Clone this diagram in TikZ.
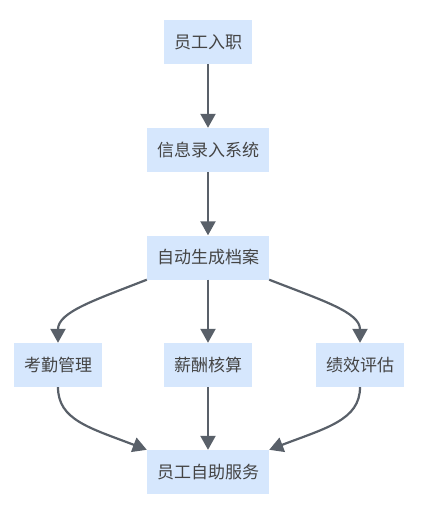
\documentclass[tikz,border=0pt]{standalone}
\usepackage{fontspec}
\setmainfont{Noto Sans CJK SC}
\usetikzlibrary{arrows.meta}
\definecolor{boxfill}{HTML}{D6E7FD}
\definecolor{edgecol}{HTML}{596069}
\definecolor{txtcol}{HTML}{444444}
\begin{document}
\begin{tikzpicture}[x=1pt,y=-1pt,
  box/.style={fill=boxfill,text=txtcol,font=\fontsize{17}{20}\selectfont,minimum height=44pt,inner xsep=10pt},
  flow/.style={draw=edgecol,line width=2.2pt,-{Triangle[length=14pt,width=15pt]}}]
\useasboundingbox (0,0) rectangle (424,519);
\node[box] (join) at (208,42) {员工入职};
\node[box] (input) at (208,150) {信息录入系统};
\node[box] (file) at (208,257.5) {自动生成档案};
\node[box] (attend) at (58,365) {考勤管理};
\node[box] (pay) at (208,365) {薪酬核算};
\node[box] (perf) at (360,365) {绩效评估};
\node[box] (self) at (208,472) {员工自助服务};
\draw[flow] (join) -- (input);
\draw[flow] (input) -- (file);
\draw[flow] (file.south west) .. controls (95,300) and (58,312) .. (attend.north);
\draw[flow] (file) -- (pay);
\draw[flow] (file.south east) .. controls (321,300) and (360,312) .. (perf.north);
\draw[flow] (attend.south) .. controls (58,420) and (90,428) .. (self.north west);
\draw[flow] (pay) -- (self);
\draw[flow] (perf.south) .. controls (360,420) and (326,428) .. (self.north east);
\end{tikzpicture}
\end{document}
